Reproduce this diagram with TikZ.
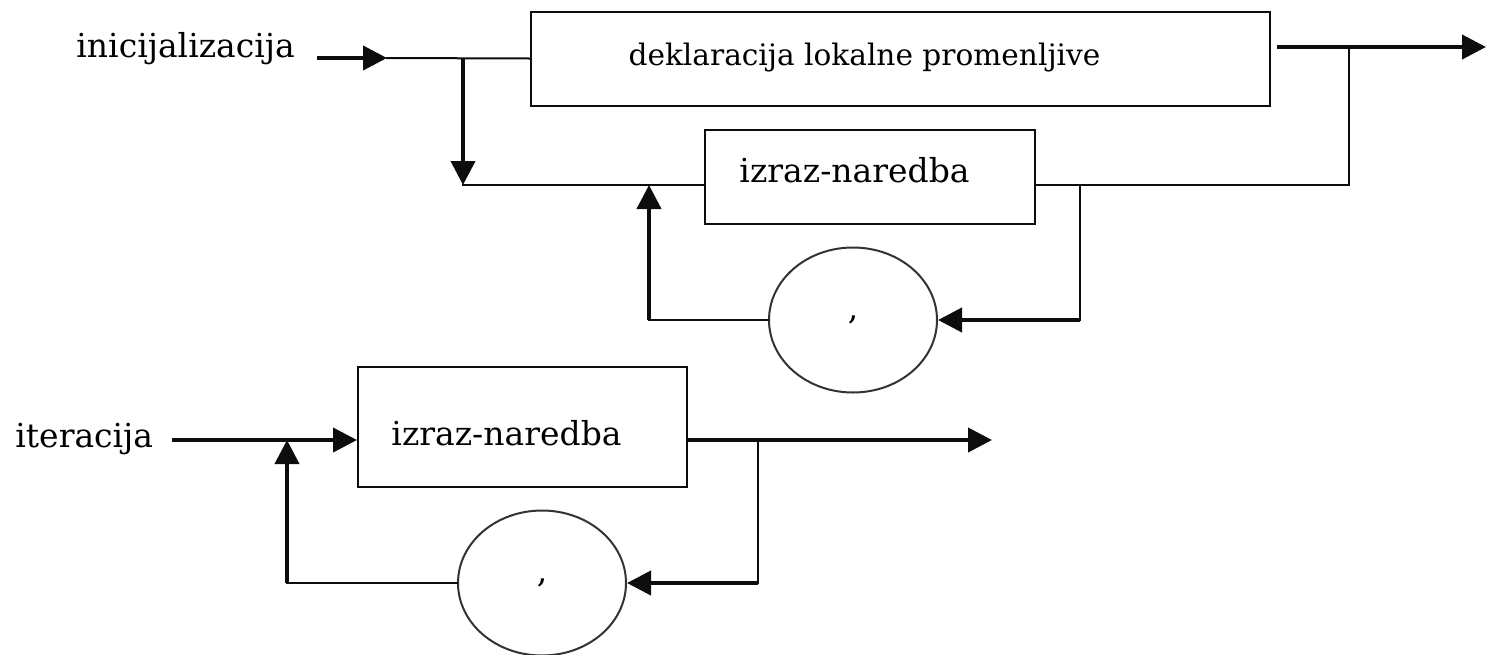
\documentclass[tikz,border=0pt]{standalone}
\usepackage{fontspec}
\setmainfont{DejaVu Serif}
\usetikzlibrary{arrows.meta, positioning, shapes.geometric}
\definecolor{lineBlack}{gray}{0.05}
\definecolor{ovalGray}{gray}{0.2}

\begin{document}
\begin{tikzpicture}[x=0.5pt, y=-0.5pt, >={Triangle[length=12pt, width=12pt]},
    box/.style={draw=lineBlack, line width=1pt, inner sep=0pt, font=\fontsize{16.5}{20}\selectfont},
    oval/.style={draw=ovalGray, ellipse, line width=1pt, inner sep=0pt, minimum width=84pt, minimum height=72.5pt, font=\fontsize{16.5}{20}\selectfont},
    lbl/.style={inner sep=0pt, font=\fontsize{16.5}{20}\selectfont},
    heavy/.style={line width=2pt, lineBlack},
    light/.style={line width=1pt, lineBlack, line cap=rect}]
    \useasboundingbox (0,0) rectangle (1488,654);

    % Initialization
    \node[lbl, anchor=base west] (init) at (76,57) {inicijalizacija};
    \node[box, minimum width=369.5pt, minimum height=47pt, text height=11pt, text depth=4.5pt, font=\fontsize{14.8}{18}\selectfont] (decl) at (900.5,58.5) {deklaracija lokalne promenljive\hspace*{36pt}};
    \node[box, minimum width=165pt, minimum height=47pt, text height=12.5pt, text depth=7.5pt] (expr1) at (870,177) {izraz-naredba\hspace*{15.5pt}};
    \node[oval] (comma1) at (853,320) {,};

    \coordinate (s1) at (317,58);
    \coordinate (a1) at (387,58);
    \coordinate (b1) at (463,58);
    \coordinate (b2) at (463,185);
    \coordinate (c1) at (649,185);
    \coordinate (c2) at (649,320);
    \coordinate (d1) at (1349,47);
    \coordinate (d2) at (1349,185);
    \coordinate (e1) at (1080,185);
    \coordinate (e2) at (1080,320);
    \coordinate (o1) at (1277,47);
    \coordinate (o2) at (1486,47);

    \draw[heavy, ->] (s1) -- (a1);
    \draw[light] (a1) -- (decl.west);
    \draw[heavy, ->] (b1) -- (b2);
    \draw[light] (b2) -- (expr1.west |- b2);
    \draw[heavy, ->] (o1) -- (o2);
    \draw[light] (d1) -- (d2) -- (expr1.east |- d2);
    \draw[light] (e1) -- (e2);
    \draw[heavy, ->] (e2) -- (comma1.east);
    \draw[light] (comma1.west) -- (c2);
    \draw[heavy, ->] (c2) -- (c1);

    % Iteration
    \node[lbl, anchor=base west] (iter) at (15,447) {iteracija};
    \node[box, minimum width=164.5pt, minimum height=60pt, text height=25pt, text depth=7pt] (expr2) at (522.5,427) {izraz-naredba\hspace*{16pt}};
    \node[oval] (comma2) at (542,583) {,};

    \coordinate (s2) at (172,440);
    \coordinate (f1) at (287,440);
    \coordinate (f2) at (287,583);
    \coordinate (g1) at (758,440);
    \coordinate (g2) at (758,583);
    \coordinate (o3) at (992,440);

    \draw[heavy, ->] (s2) -- (expr2.west |- s2);
    \draw[heavy, ->] (f2) -- (f1);
    \draw[light] (comma2.west) -- (f2);
    \draw[heavy, ->] (expr2.east |- s2) -- (o3);
    \draw[light] (g1) -- (g2);
    \draw[heavy, ->] (g2) -- (comma2.east);
\end{tikzpicture}
\end{document}
